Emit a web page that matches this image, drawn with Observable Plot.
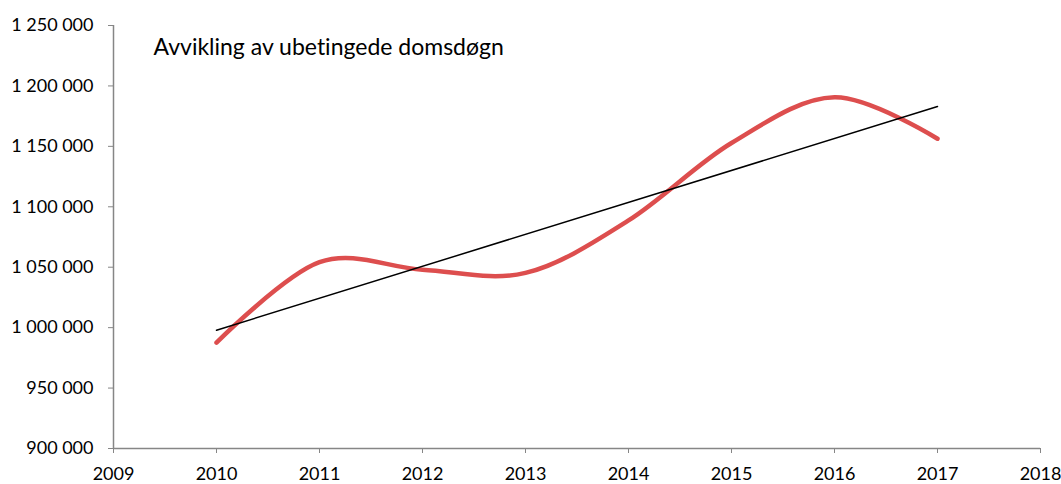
<!DOCTYPE html>
<html>
<head>
<meta charset="utf-8">
<script src="https://cdn.jsdelivr.net/npm/d3@7"></script>
<script src="https://cdn.jsdelivr.net/npm/@observablehq/plot@0.6"></script>
<style>
  html, body { margin: 0; padding: 0; background: #fff; }
  #chart { width: 1061px; height: 484px; }
  #chart svg text { font-variant-ligatures: none; }
</style>
</head>
<body>
<div id="chart"></div>
<script>
const years = [2010, 2011, 2012, 2013, 2014, 2015, 2016, 2017];
const values = [987600, 1054200, 1047900, 1045300, 1088700, 1152800, 1190600, 1156300];
const yTicks = [900000, 950000, 1000000, 1050000, 1100000, 1150000, 1200000, 1250000];
const xTicks = [2009, 2010, 2011, 2012, 2013, 2014, 2015, 2016, 2017, 2018];
const title = "Avvikling av ubetingede domsdøgn";

const data = years.map((year, i) => ({year, value: values[i]}));
const fmt = d3.formatLocale({thousands: " ", grouping: [3], decimal: ",", currency: ["", ""]}).format(",");
const axisColor = "#868686";
const font = "Lato, 'Noto Sans', sans-serif";

const chart = Plot.plot({
  width: 1061,
  height: 484,
  marginLeft: 113,
  marginRight: 21,
  marginTop: 25,
  marginBottom: 36,
  style: {fontFamily: font, fontSize: "18px", color: "#000", background: "#fff"},
  x: {domain: [2009, 2018], label: null},
  y: {domain: [900000, 1250000], label: null},
  marks: [
    Plot.axisY({ticks: yTicks, tickFormat: fmt, tickSize: 5, tickPadding: 15, stroke: axisColor, fill: "#000", fontSize: 18}),
    Plot.axisX({ticks: xTicks, tickFormat: "d", tickSize: 5, tickPadding: 14, stroke: axisColor, fill: "#000", fontSize: 18}),
    Plot.ruleX([2009], {y1: 900000, y2: 1250000, stroke: axisColor, strokeWidth: 1.5}),
    Plot.ruleY([900000], {x1: 2009, x2: 2018, stroke: axisColor, strokeWidth: 1.5}),
    Plot.line(data, {x: "year", y: "value", curve: "cardinal", stroke: "#dd4e4e", strokeWidth: 4.5, strokeLinecap: "round"}),
    Plot.linearRegressionY(data, {x: "year", y: "value", ci: 0, stroke: "#000", strokeWidth: 1.5}),
    Plot.text([title], {frameAnchor: "top-left", dx: 40, dy: 13, textAnchor: "start", lineAnchor: "top", fontSize: 23, fill: "#000"})
  ]
});
document.getElementById("chart").appendChild(chart);
</script>
</body>
</html>
